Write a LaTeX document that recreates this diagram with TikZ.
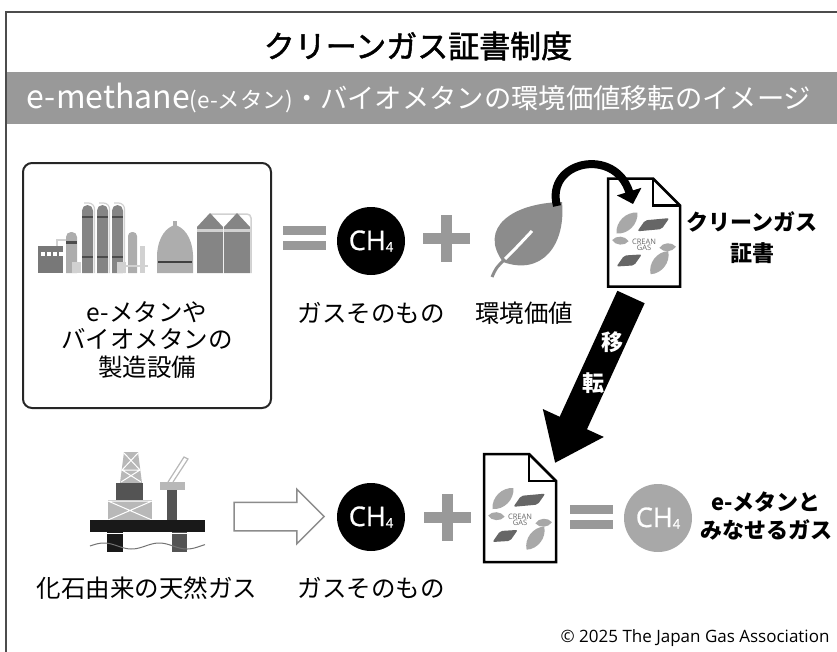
\documentclass[tikz,border=0pt]{standalone}
\usepackage{fontspec}
\setmainfont{Noto Sans CJK JP}
\newfontfamily\titlefont{Noto Sans CJK JP}[FakeBold=1.6]
\newfontfamily\latinfont{Open Sans}
\newfontfamily\chemfont{Open Sans}[FakeBold=1]
\usetikzlibrary{arrows.meta,shapes.arrows}

\definecolor{bandgray}{gray}{0.6}
\definecolor{signgray}{gray}{0.6}
\definecolor{leafgray}{gray}{0.55}
\definecolor{plantdark}{gray}{0.47}
\definecolor{plantmid}{gray}{0.52}
\definecolor{plantlight}{gray}{0.68}
\definecolor{pipegray}{gray}{0.82}
\definecolor{rigdark}{gray}{0.33}
\definecolor{riglight}{gray}{0.72}
\definecolor{logodark}{gray}{0.4}
\definecolor{logolight}{gray}{0.66}
\definecolor{ch4gray}{gray}{0.66}

\newcommand{\chfour}{{\chemfont\fontsize{27}{27}\selectfont CH\raisebox{-1.5pt}{\fontsize{13}{13}\selectfont 4}}}

\begin{document}
\begin{tikzpicture}[x=1pt, y=-1pt,
    lbl/.style={font=\fontsize{24.5}{27.5}\selectfont, align=center},
    boldlbl/.style={font=\fontsize{22}{31}\selectfont\bfseries, align=center},
    molecule/.style={circle, minimum size=68pt, inner sep=0pt, text=white},
    plus/.pic={
      \fill[signgray] (-23.5,-5.5) rectangle (23.5,5.5);
      \fill[signgray] (-5.5,-23.5) rectangle (5.5,23.5);
    },
    equal/.pic={
      \fill[signgray] (-21.5,-12) rectangle (21.5,-3);
      \fill[signgray] (-21.5,3) rectangle (21.5,12);
    },
    cert/.pic={
      \draw[line width=2.5pt, fill=white] (-36,-54) -- (9,-54) -- (36,-27) -- (36,54) -- (-36,54) -- cycle;
      \draw[line width=2.5pt] (9,-54) -- (9,-27) -- (36,-27);
      \begin{scope}[shift={(0,12)}, scale=1.1]
        \fill[logolight] (-25,-10) to[bend left=50] (-6,-29) to[bend left=50] (-25,-10);
        \fill[logolight] (-29,-4) to[bend left=55] (-14,-3) to[bend left=55] (-29,-4);
        \fill[logolight] (14,3) to[bend left=55] (29,2) to[bend left=55] (14,3);
        \fill[logolight] (6,27) to[bend left=50] (22,6) to[bend left=50] (6,27);
        \fill[logodark, rounded corners=2pt] (-6,-12) -- (1,-22) -- (23,-24) -- (16,-14) -- cycle;
        \fill[logodark, rounded corners=2pt] (-25,20) -- (-18,10) -- (-2,9) -- (-9,19) -- cycle;
        \node[font=\latinfont\fontsize{7.5}{7.5}\selectfont, text=logodark, align=center, inner sep=0pt] at (0,0) {CREAN\\[-1.5pt]GAS};
      \end{scope}
    }]
\useasboundingbox (0,0) rectangle (837,651);
\clip (0,0) rectangle (837,651);

% frame and headings
\draw[line width=1.5pt, black!70] (6,700) -- (6,12) -- (900,12);
\node[font=\titlefont\fontsize{31}{31}\selectfont] (title) at (418,46) {クリーンガス証書制度};
\fill[bandgray] (7,72) rectangle (837,124);
\node[text=white, inner sep=0pt] (band) at (419,98)
  {\fontsize{32}{32}\selectfont e-methane\fontsize{22.5}{22.5}\selectfont(e-メタン)\fontsize{27.3}{27.3}\selectfont・バイオメタンの環境価値移転のイメージ};

% production plant
\node[draw=black!85, line width=2pt, rounded corners=9pt, minimum width=248pt, minimum height=245pt] (plant) at (147,285.5) {};
\fill[plantdark] (38,246) rectangle (63,273);
\foreach \wx in {41,47,53,59}
  \fill[white] (\wx,252) rectangle +(4,4);
\draw[pipegray, line width=1.5pt] (57,246) -- (57,240) -- (68,240);
\fill[plantlight] (66,273) [rounded corners=5pt] -- (66,232) -- (77,232) [sharp corners] -- (77,273) -- cycle;
\fill[black!70] (66,241) rectangle (77,243.5);
\foreach \cx in {82,97,112} {
  \draw[pipegray, line width=1.2pt, rounded corners=6pt] (\cx+12.5,273) -- (\cx+12.5,203) -- (\cx+2,203);
  \fill[plantmid] (\cx,273) [rounded corners=5.5pt] -- (\cx,205) -- (\cx+11,205) [sharp corners] -- (\cx+11,273) -- cycle;
  \fill[black!70] (\cx,216) rectangle (\cx+11,218);
  \fill[black!70] (\cx,256) rectangle (\cx+11,258);
}
\fill[plantlight] (128,273) [rounded corners=4pt] -- (128,232) -- (137,232) [sharp corners] -- (137,273) -- cycle;
\fill[pipegray] (140,246) rectangle (145,273);
\fill[pipegray] (72,262) rectangle (81,273);
\fill[pipegray] (117,262) rectangle (126,273);
\draw[pipegray, line width=1.2pt] (125,266) -- (148,266);
\fill[plantlight] (157,273) -- (157,255) .. controls (158,236) and (167,227) .. (175,225) .. controls (183,227) and (192,236) .. (193,255) -- (193,273) -- cycle;
\fill[plantlight] (173,221) rectangle (177,226);
\fill[black!75] (158,261) rectangle (192,263);
\draw[pipegray, line width=1.5pt, rounded corners=4pt] (210,214) -- (251,214) -- (251,273);
\foreach \sx in {197,224} {
  \fill[plantmid] (\sx,273) -- (\sx,227) -- (\sx+13,213) -- (\sx+26,227) -- (\sx+26,273) -- cycle;
  \fill[pipegray] (\sx,229) rectangle (\sx+26,232);
}
\node[lbl] (plantlbl) at (147,340) {e-メタンや\\バイオメタンの\\製造設備};

% upper row
\pic at (304.5,237.5) {equal};
\node[molecule, fill=black] (gas1) at (371,241) {\chfour};
\node[lbl] (gas1lbl) at (371,313) {ガスそのもの};
\pic at (446,238) {plus};
\fill[leafgray] (503,262) .. controls (478,228) and (512,203) .. (562,202) .. controls (566,245) and (542,276) .. (503,262);
\draw[leafgray, line width=3pt] (492,277) .. controls (496,268) .. (505,259);
\draw[white, line width=3pt] (505,259) .. controls (516,248) .. (532,231);
\node[lbl] (value) at (524,313) {環境価値};
\pic at (644,232.5) {cert};
\node[boldlbl] (certlbl) at (752,238) {クリーンガス\\証書};
\coordinate (leaftip) at (557,206);
\coordinate (certin) at (633,204);
\draw[line width=8pt, -{Triangle[width=25pt,length=13pt]}] (leaftip) .. controls +(-12,-45) and +(-18,-58) .. (certin);

% transfer arrow
\coordinate (movetail) at (631,297);
\coordinate (movetip) at (555,463);
\draw[line width=30pt, -{Triangle[width=64pt,length=44pt]}] (movetail) -- (movetip);
\node[text=white, font=\fontsize{22}{22}\selectfont\bfseries] (move1) at (612,342) {移};
\node[text=white, font=\fontsize{22}{22}\selectfont\bfseries] (move2) at (593,383) {転};

% offshore rig
\fill[riglight] (120,483) -- (124,452) -- (138,452) -- (142,483) -- cycle;
\draw[white, line width=1pt] (124,453) -- (140,470) -- (121,482) (138,453) -- (122,470) -- (141,482) (122,470) -- (140,470);
\fill[rigdark] (116,483) rectangle (143,500);
\fill[riglight] (108,500) rectangle (152,520);
\draw[white, line width=1pt] (108,501) -- (152,520) (108,520) -- (152,501) (108,501) -- (152,501);
\draw[riglight, line width=1.2pt] (168,482) -- (184,457) -- (188,459) -- (173,482);
\fill[rigdark] (167,490) rectangle (177,520);
\fill[riglight] (160,482) rectangle (185,490);
\fill[black!90] (90,520) rectangle (205,532);
\fill[black!90] (107,532) rectangle (123,552);
\fill[rigdark] (172,532) rectangle (187,552);
\draw[white, line width=0.8pt] (107,533.5) -- (123,533.5) (172,533.5) -- (187,533.5);
\draw[black!55, line width=1pt] plot[domain=90:205, samples=60] (\x, {546-3*sin(6.5*(\x-90))});
\node[lbl] (fossil) at (147,588) {化石由来の天然ガス};
\node[single arrow, draw=black!45, line width=1.5pt, fill=white, minimum height=90pt,
  single arrow head extend=13pt, inner sep=0pt] (toarrow) at (272,516.5) {\rule{0pt}{27pt}};

% lower row
\node[molecule, fill=black] (gas2) at (371,517) {\chfour};
\node[lbl] (gas2lbl) at (371,588) {ガスそのもの};
\pic at (447,517) {plus};
\pic at (520,508) {cert};
\pic at (591.5,516.5) {equal};
\node[molecule, fill=ch4gray] (egas) at (658,518) {\chfour};
\node[boldlbl, font=\fontsize{22}{28}\selectfont\bfseries] (egaslbl) at (766,516) {e-メタンと\\みなせるガス};

\node[anchor=east, font=\latinfont\fontsize{17}{17}\selectfont] (credit) at (833,638) {© 2025 The Japan Gas Association};
\end{tikzpicture}
\end{document}
